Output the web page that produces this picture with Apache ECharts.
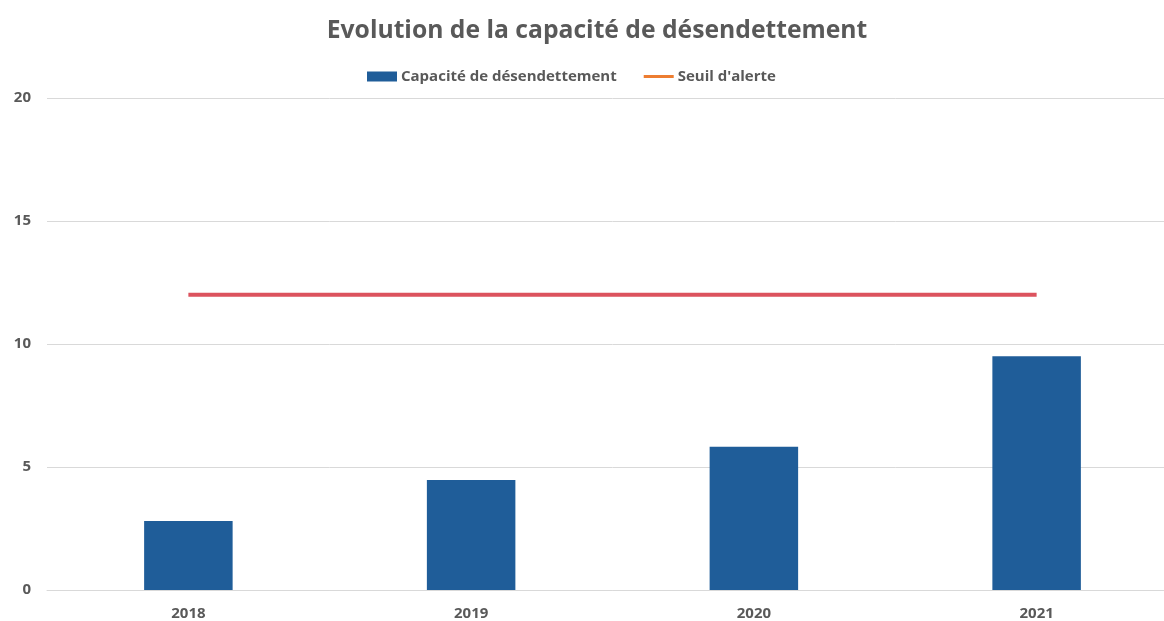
<!DOCTYPE html>
<html>
<head>
<meta charset="utf-8">
<script src="https://cdn.jsdelivr.net/npm/echarts@6/dist/echarts.min.js"></script>
<style>
  html, body { margin: 0; padding: 0; background: #fff; overflow: hidden; width: 1164px; height: 621px; }
  /* la zone de tracé dépasse à droite dans l'original */
  #chart { width: 1178px; height: 621px; }
</style>
</head>
<body>
<div id="chart"></div>
<script type="text/javascript">
// donnees
var annees = ['2018', '2019', '2020', '2021'];
var capacite = [2.8, 4.47, 5.82, 9.5];
var seuil = [12, 12, 12, 12];
var yTicks = [0, 5, 10, 15, 20];

var textColor = '#595959';
var font = '"Open Sans", "Liberation Sans", sans-serif';

var chart = echarts.init(document.getElementById('chart'));
var option = {
  animation: false,
  title: {
    text: 'Evolution de la capacité de désendettement',
    left: 592,
    textAlign: 'center',
    top: 13,
    textStyle: { color: textColor, fontSize: 24.7, fontWeight: 'bold', fontFamily: font }
  },
  legend: {
    top: 64,
    left: 362,
    itemWidth: 30,
    itemHeight: 10,
    itemGap: 27,
    textStyle: { color: textColor, fontSize: 15, fontWeight: 'bold', fontFamily: font, padding: [0, 0, 0, -1] },
    data: [
      { name: 'Capacité de désendettement', icon: 'rect' },
      { name: "Seuil d'alerte", icon: 'path://M0,0 L30,0 L30,3 L0,3 Z', itemStyle: { color: '#ED7D31' } }
    ]
  },
  grid: { left: 47, right: 0, top: 98, bottom: 30 },
  xAxis: {
    type: 'category',
    data: annees,
    axisTick: { show: false },
    axisLine: { lineStyle: { color: '#d9d9d9' } },
    axisLabel: { color: textColor, fontSize: 15, fontWeight: 'bold', fontFamily: font, margin: 16 }
  },
  yAxis: {
    type: 'value',
    min: yTicks[0],
    max: yTicks[yTicks.length - 1],
    interval: 5,
    axisLabel: { color: textColor, fontSize: 15, fontWeight: 'bold', fontFamily: font, margin: 16 },
    splitLine: { lineStyle: { color: '#d9d9d9' } }
  },
  series: [
    {
      name: 'Capacité de désendettement',
      type: 'bar',
      data: capacite,
      barWidth: '31.3%',
      itemStyle: { color: '#1F5D99' }
    },
    {
      name: "Seuil d'alerte",
      type: 'line',
      data: seuil,
      symbol: 'none',
      itemStyle: { color: '#ED7D31' },
      lineStyle: { color: '#DC535E', width: 4 }
    }
  ]
};
chart.setOption(option);
</script>
</body>
</html>
